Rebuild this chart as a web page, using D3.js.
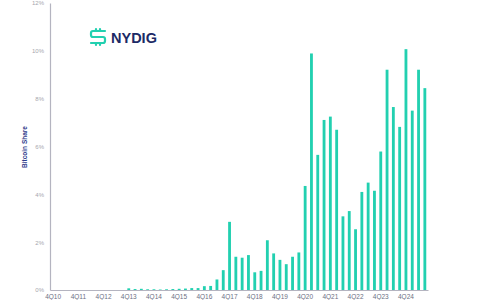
<!DOCTYPE html>
<html>
<head>
<meta charset="utf-8">
<script src="https://cdn.jsdelivr.net/npm/d3@7"></script>
<style>
  body { margin: 0; background: #fff; }
  svg { display: block; font-family: "Liberation Sans", Arial, sans-serif; }
</style>
</head>
<body>
<div id="chart"></div>
<script>
// quarters shown on the axis, 4Q10 .. 3Q25
const quarters = [];
for (let y = 10; y <= 25; y++) {
  for (let q = 1; q <= 4; q++) {
    if (y === 10 && q < 4) continue;
    if (y === 25 && q > 3) continue;
    quarters.push(q + 'Q' + y);
  }
}

// bitcoin share (%) from 4Q13 onwards
const firstQuarter = '4Q13';
const share = [
  0.07, 0.04, 0.05, 0.03, 0.03, 0.02, 0.03, 0.04,
  0.05, 0.06, 0.08, 0.08, 0.16, 0.17, 0.44, 0.83,
  2.85, 1.39, 1.35, 1.46, 0.74, 0.80, 2.08, 1.53,
  1.26, 1.08, 1.39, 1.57, 4.35, 9.89, 5.65, 7.11,
  7.25, 6.70, 3.08, 3.30, 2.54, 4.10, 4.49, 4.15,
  5.79, 9.21, 7.65, 6.82, 10.07, 7.50, 9.21, 8.44
];

const yTicks = [0, 2, 4, 6, 8, 10, 12];
const xTickLabels = quarters.filter(d => d.startsWith('4Q'));

const drawChart = () => {
  const width = 480;
  const height = 300;
  const start = quarters.indexOf(firstQuarter);
  const data = share.map((v, i) => ({ label: quarters[start + i], value: v }));

  const svg = d3.select('#chart')
    .append('svg')
    .attr('width', width)
    .attr('height', height);

  const x = d3.scaleBand()
    .domain(quarters)
    .range([50, 428])
    .paddingInner(0.55)
    .paddingOuter(0.275);

  const y = d3.scaleLinear()
    .domain([0, 12])
    .range([290, 3]);

  // y axis
  svg.append('g')
    .attr('transform', 'translate(50,0)')
    .call(d3.axisLeft(y).tickValues(yTicks).tickSize(0).tickPadding(6).tickFormat(d => d + '%'))
    .call(g => g.select('.domain').attr('stroke', '#b4b4c0').attr('stroke-width', 1.2))
    .call(g => g.selectAll('text').attr('fill', '#a6a6ae').attr('font-size', 6));

  // bars
  svg.selectAll('.bar')
    .data(data)
    .enter()
    .append('rect')
    .attr('class', 'bar')
    .attr('x', d => x(d.label))
    .attr('width', x.bandwidth())
    .attr('y', d => y(d.value))
    .attr('height', d => y(0) - y(d.value))
    .attr('fill', '#22d0b0');

  // x axis
  svg.append('g')
    .attr('transform', 'translate(0,290)')
    .call(d3.axisBottom(x).tickValues(xTickLabels).tickSize(0).tickPadding(4.5))
    .call(g => g.select('.domain').attr('stroke', '#b4b4c0').attr('stroke-width', 1.2))
    .call(g => g.selectAll('text').attr('fill', '#6c7084').attr('font-size', 6.5));

  // axis title
  svg.append('text')
    .attr('transform', 'translate(27,147) rotate(-90)')
    .attr('text-anchor', 'middle')
    .attr('font-size', 6.5)
    .attr('font-weight', 'bold')
    .attr('fill', '#2e3b8c')
    .text('Bitcoin Share');

  // logo
  const logo = svg.append('g').attr('transform', 'translate(89,29)');
  const ic = logo.append('g')
    .attr('fill', 'none')
    .attr('stroke', '#22d0b0')
    .attr('stroke-width', 2.2)
    .attr('stroke-linecap', 'round')
    .attr('stroke-linejoin', 'round');
  ic.append('path').attr('d', 'M16,2 H4 Q2,2 2,4 V6 Q2,8 4,8 H14 Q16,8 16,10 V12 Q16,14 14,14 H2');
  ic.append('path').attr('d', 'M7,0 V2 M11,0 V2 M7,14 V16 M11,14 V16');
  logo.append('text')
    .attr('x', 22)
    .attr('y', 14)
    .attr('font-size', 14.5)
    .attr('font-weight', 'bold')
    .attr('fill', '#1c2a66')
    .text('NYDIG');
};

drawChart();
</script>
</body>
</html>
